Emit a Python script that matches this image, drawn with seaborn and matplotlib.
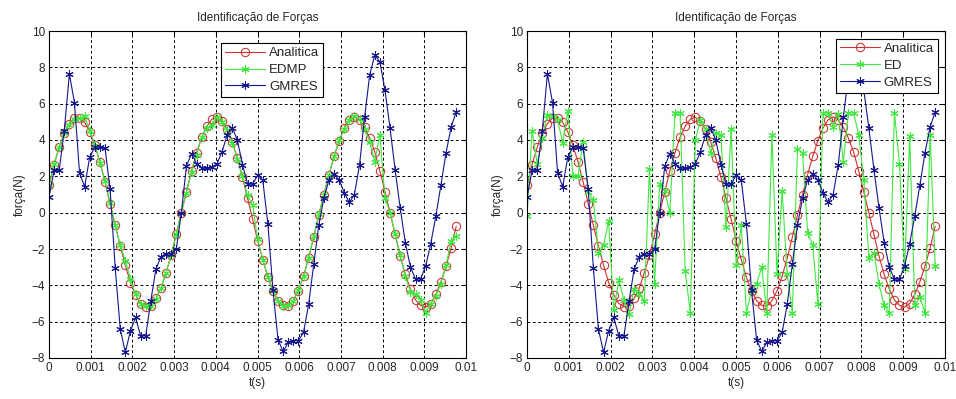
import numpy as np
import pandas as pd
import matplotlib
matplotlib.use("Agg")
import matplotlib.pyplot as plt
import seaborn as sns

# sample step (s)
dt = 1 / 8192

analitica = [1.5, 2.65, 3.6, 4.4, 4.9, 5.2, 5.22, 4.97, 4.45, 3.7,
             2.8, 1.7, 0.5, -0.7, -1.83, -2.9, -3.85, -4.52, -5.0, -5.18,
             -5.13, -4.72, -4.16, -3.3, -2.35, -1.2, 0.0, 1.15, 2.3, 3.3,
             4.15, 4.75, 5.15, 5.25, 5.05, 4.6, 3.9, 3.0, 1.95, 0.8,
             -0.35, -1.55, -2.6, -3.55, -4.3, -4.85, -5.1, -5.15, -4.85, -4.3,
             -3.5, -2.5, -1.35, -0.15, 1.0, 2.1, 3.1, 3.95, 4.65, 5.1,
             5.28, 5.1, 4.7, 4.1, 3.35, 2.3, 1.15, 0.0, -1.2, -2.4,
             -3.4, -4.2, -4.8, -5.1, -5.2, -5.0, -4.5, -3.8, -2.95, -1.95,
             -0.75]

edmp = [1.5, 2.7, 3.6, 4.4, 4.85, 5.15, 5.2, 5.3, 4.5, 3.75,
        2.75, 1.75, 0.55, -0.7, -1.8, -2.65, -3.65, -4.5, -5.0, -5.15,
        -5.15, -4.75, -4.15, -3.3, -2.35, -1.2, 0.0, 1.1, 2.25, 3.2,
        4.15, 4.65, 4.85, 5.25, 5.0, 4.55, 3.85, 2.95, 2.0, 0.95,
        0.4, -1.45, -2.6, -3.55, -4.3, -4.85, -5.15, -5.1, -4.85, -4.25,
        -3.5, -2.5, -1.3, -0.1, 1.0, 2.1, 3.1, 4.0, 4.6, 5.1,
        5.3, 5.15, 4.6, 3.9, 2.8, 4.3, 0.8, 0.0, -1.15, -2.35,
        -3.5, -4.35, -4.5, -4.8, -5.5, -5.0, -4.6, -3.9, -2.9, -1.55,
        -1.3]

ed = [-0.2, 4.5, 2.7, 4.1, 5.4, 5.3, 5.1, 3.85, 5.6, 2.0,
      2.0, 3.9, 1.15, 0.7, -2.2, -1.8, -0.45, -5.35, -3.7, -4.8,
      -5.6, -4.2, -4.5, -4.85, 2.4, -3.9, 1.6, 1.2, 0.0, 5.5,
      5.5, -3.2, -5.5, 4.0, 5.1, 4.6, 3.3, 4.4, 4.3, -0.8,
      4.6, -2.9, -0.7, -5.5, -4.3, -3.9, -3.0, -5.5, 4.3, -3.4,
      1.2, -3.4, -5.5, 3.5, 3.3, -1.1, -1.8, -5.0, 5.5, 5.5,
      4.7, 5.45, 2.8, 5.5, 5.5, 4.3, 1.8, -2.5, -2.2, -3.95,
      -5.1, -5.5, 5.5, 2.7, -3.1, 4.2, -5.1, -4.65, -5.5, 4.3,
      -2.95]

gmres = [0.86, 2.33, 2.33, 4.52, 7.64, 6.06, 2.18, 1.43, 3.06, 3.61,
         3.61, 3.57, 1.28, -3.02, -6.41, -7.69, -6.5, -5.77, -6.78, -6.78,
         -4.85, -3.11, -2.42, -2.25, -2.29, -2.01, 0.0, 2.56, 3.25, 2.69,
         2.45, 2.44, 2.5, 2.69, 3.35, 4.3, 4.68, 4.0, 2.65, 1.6,
         1.56, 2.07, 1.78, -0.62, -4.28, -7.0, -7.64, -7.14, -7.05, -7.05,
         -6.59, -5.05, -2.85, -0.7, 0.8, 1.8, 2.13, 1.8, 1.1, 0.56,
         1.0, 2.63, 5.25, 7.58, 8.68, 8.3, 6.75, 4.65, 2.35, 0.24,
         -1.65, -2.99, -3.66, -3.66, -2.93, -1.7, -0.18, 1.52, 3.3, 4.71,
         5.55]

t = np.arange(len(analitica)) * dt

xticks = [0, 0.001, 0.002, 0.003, 0.004, 0.005, 0.006, 0.007, 0.008, 0.009, 0.01]
xticklabels = ["0", "0.001", "0.002", "0.003", "0.004", "0.005",
               "0.006", "0.007", "0.008", "0.009", "0.01"]
yticks = [-8, -6, -4, -2, 0, 2, 4, 6, 8, 10]

sns.set_style("white")
plt.rcParams["font.family"] = ["Liberation Sans", "DejaVu Sans"]

red = "#cc3030"
green = "#3ee83e"
blue = "#16168e"
ast = (6, 2, 0)

fig = plt.figure(figsize=(9.56, 3.99), dpi=100)
ax1 = fig.add_axes([49 / 956, 41 / 399, 417 / 956, 327 / 399])
ax2 = fig.add_axes([527 / 956, 41 / 399, 418 / 956, 327 / 399])


def draw(ax, gvals, gname, anchor):
    sns.lineplot(x=t, y=analitica, ax=ax, color=red, marker="o", markersize=6,
                 markerfacecolor="none", markeredgecolor=red, linewidth=0.8,
                 label="Analitica")
    sns.lineplot(x=t, y=gvals, ax=ax, color=green, marker=ast, markersize=6,
                 markeredgecolor=green, linewidth=0.8, label=gname)
    sns.lineplot(x=t, y=gmres, ax=ax, color=blue, marker=ast, markersize=6,
                 markeredgecolor=blue, linewidth=0.8, label="GMRES")
    ax.set_xlim(0, 0.01)
    ax.set_ylim(-8, 10)
    ax.set_xticks(xticks)
    ax.set_xticklabels(xticklabels)
    ax.set_yticks(yticks)
    ax.tick_params(direction="in", length=3, top=True, right=True,
                   labelsize=8.5, pad=3, color="black")
    ax.grid(True, linestyle=(0, (3, 2.5)), color="black", linewidth=0.7)
    for s in ax.spines.values():
        s.set_color("black")
        s.set_linewidth(0.8)
    ax.set_title("Identificação de Forças", fontsize=8.5, pad=7)
    ax.set_xlabel("t(s)", fontsize=8.5, labelpad=2)
    ax.set_ylabel("força(N)", fontsize=8.5, labelpad=4)
    leg = ax.legend(loc="upper right", bbox_to_anchor=anchor, fontsize=9.5,
                    frameon=True, fancybox=False, edgecolor="black",
                    framealpha=1, borderpad=0.3, handlelength=3,
                    handletextpad=0.3, borderaxespad=0, numpoints=1,
                    labelspacing=0.35)
    leg.get_frame().set_linewidth(0.8)


draw(ax1, edmp, "EDMP", (0.657, 0.963))
draw(ax2, ed, "ED", (0.983, 0.976))

fig.savefig("out.png", dpi=100, facecolor="white")
